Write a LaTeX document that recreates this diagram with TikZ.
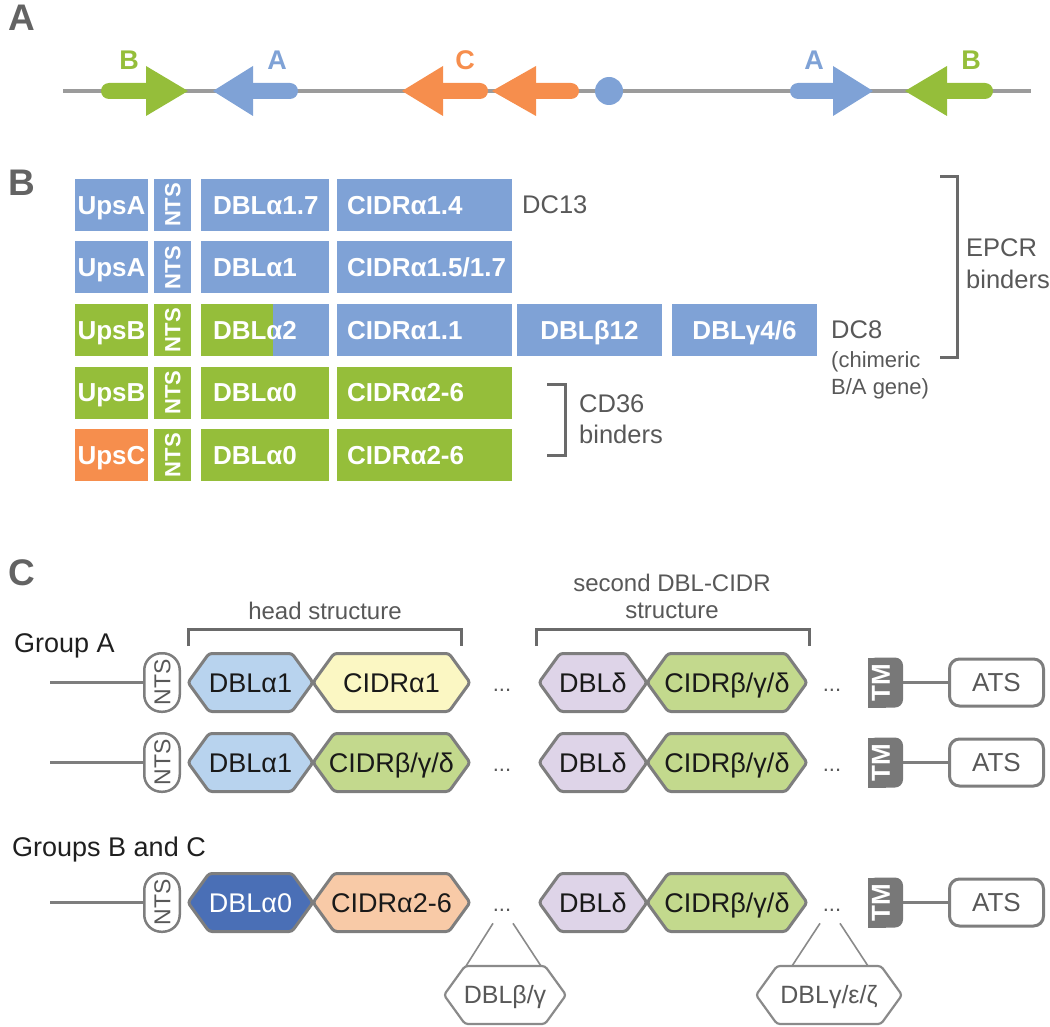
\documentclass[tikz,border=0pt]{standalone}
\usepackage{fontspec}
\setmainfont{Liberation Sans}
\usetikzlibrary{positioning,backgrounds}

\definecolor{geneblue}{HTML}{7FA2D6}
\definecolor{genegreen}{HTML}{95BE3A}
\definecolor{geneorange}{HTML}{F68E4D}
\definecolor{linegray}{HTML}{9B9B9B}
\definecolor{labelgray}{HTML}{636363}
\definecolor{txtgray}{HTML}{585858}
\definecolor{brgray}{HTML}{6A6A6A}
\definecolor{domgray}{HTML}{7E7E7E}
\definecolor{altgray}{HTML}{8A8A8A}
\definecolor{dblaone}{HTML}{B8D3EE}
\definecolor{cidrone}{HTML}{FBF7C3}
\definecolor{cidrbgd}{HTML}{C3D98D}
\definecolor{dbldelta}{HTML}{DED4E8}
\definecolor{dblazero}{HTML}{4A6FB6}
\definecolor{cidrtwo}{HTML}{F8CAA7}
\definecolor{tmgray}{HTML}{787878}

% gene arrow of panel A: tail x, head base x, tip x, colour
\newcommand{\genearrow}[4]{%
  \fill[#4, rounded corners=8] (#1,83) rectangle ({(#2+#3)/2},99);
  \fill[#4] (#2,66) -- (#3,91) -- (#2,116) -- cycle;}

% domain hexagon of panel C: style, name, centre, width, fill, text
\newcommand{\hexdom}[6]{%
  \node[#1, minimum width=#4] (#2) at (#3) {#6};
  \begin{pgfonlayer}{background}
    \draw[#1 line, fill=#5] (#2.west) -- ([xshift=21]#2.north west)
      -- ([xshift=-21]#2.north east) -- (#2.east)
      -- ([xshift=-21]#2.south east) -- ([xshift=21]#2.south west) -- cycle;
  \end{pgfonlayer}}

\begin{document}
\begin{tikzpicture}[x=1pt,y=-1pt,
  panel/.style={font=\fontsize{37}{40}\selectfont\bfseries, text=labelgray,
    text height=26.5, text depth=0, inner sep=0},
  genelabel/.style={font=\fontsize{27}{30}\selectfont\bfseries,
    text height=19.3, text depth=0, inner sep=0},
  bbox/.style={minimum height=52, inner sep=0, outer sep=0, text=white,
    font=\fontsize{26}{28}\selectfont\bfseries, text height=18.6, text depth=0},
  upsbox/.style={bbox, minimum width=73},
  ntsbox/.style={bbox, rotate=90, minimum width=52, minimum height=37,
    font=\fontsize{22}{24}\selectfont\bfseries, text height=15.8},
  dblbox/.style={bbox, minimum width=128, inner xsep=12, text width=104, align=left},
  cidrbox/.style={bbox, minimum width=175, inner xsep=10, text width=155, align=left},
  xbox/.style={bbox, minimum width=145},
  note/.style={font=\fontsize{25.5}{28}\selectfont, text=txtgray, inner sep=0, anchor=base west},
  small note/.style={note, font=\fontsize{22}{24}\selectfont},
  bracket/.style={draw=brgray, line width=3},
  dom/.style={font=\fontsize{27}{30}\selectfont, text=black!90, text height=19.3,
    text depth=0, inner sep=0, outer sep=0, minimum height=58},
  dom line/.style={draw=domgray, line width=3, rounded corners=3},
  althex/.style={dom, font=\fontsize{25}{28}\selectfont, text=txtgray, text height=17.9},
  althex line/.style={draw=altgray, line width=2.2, rounded corners=3},
  ntspill/.style={draw=domgray, line width=2.5, fill=white, rounded corners=17,
    rotate=90, minimum width=58.5, minimum height=35.5, inner sep=0, outer sep=0,
    font=\fontsize{23}{25}\selectfont, text=txtgray, text height=16.5, text depth=0},
  tmbox/.style={fill=tmgray, rounded corners=8, rotate=90, minimum width=50,
    minimum height=35, inner sep=0, outer sep=0, text=white,
    font=\fontsize{26}{28}\selectfont\bfseries, text height=18.6, text depth=10},
  atsbox/.style={draw=domgray, line width=3, rounded corners=10, minimum width=94,
    minimum height=47, inner sep=0, outer sep=0, fill=white,
    font=\fontsize{26}{28}\selectfont, text=txtgray, text height=18.6, text depth=0},
  link/.style={draw=domgray, line width=3},
  splay/.style={draw=altgray, line width=1.6},
  gap dots/.style={font=\fontsize{22}{24}\selectfont, text=txtgray, inner sep=0, anchor=base},
  grouplabel/.style={font=\fontsize{27}{30}\selectfont, text=black!88, inner sep=0, anchor=base west},
  title/.style={font=\fontsize{24}{26}\selectfont, text=txtgray, inner sep=0, anchor=base}
]
\useasboundingbox (0,0) rectangle (1050,1027);

% ---------- panel labels ----------
\node[panel] (pA) at (22,17) {A};
\node[panel] (pB) at (22,182) {B};
\node[panel] (pC) at (22,572) {C};

%================= A: gene order =================
\draw[draw=linegray, line width=4] (63,91) -- (1031,91);
\genearrow{101}{146}{188}{genegreen}
\genearrow{298}{253}{213}{geneblue}
\genearrow{488}{443}{402}{geneorange}
\genearrow{579}{536}{492}{geneorange}
\fill[geneblue] (609,91) circle[radius=14];
\genearrow{790}{833}{873}{geneblue}
\genearrow{993}{947}{905}{genegreen}
\node[genelabel, text=genegreen]  (gB1) at (129,60) {B};
\node[genelabel, text=geneblue]   (gA1) at (277,60) {A};
\node[genelabel, text=geneorange] (gC)  at (465,60) {C};
\node[genelabel, text=geneblue]   (gA2) at (814,60) {A};
\node[genelabel, text=genegreen]  (gB2) at (971,60) {B};

%================= B: domain cassettes =================
% row 1
\node[upsbox, fill=geneblue]  (u1) at (111.5,205) {UpsA};
\node[ntsbox, fill=geneblue]  (n1) at (172.5,205) {NTS};
\node[dblbox, fill=geneblue]  (d1) at (265,205)   {DBLα1.7};
\node[cidrbox, fill=geneblue] (c1) at (424.5,205) {CIDRα1.4};
\node[note] (dc13) at (522,214) {DC13};
% row 2
\node[upsbox, fill=geneblue]  (u2) at (111.5,267.5) {UpsA};
\node[ntsbox, fill=geneblue]  (n2) at (172.5,267.5) {NTS};
\node[dblbox, fill=geneblue]  (d2) at (265,267.5)   {DBLα1};
\node[cidrbox, fill=geneblue] (c2) at (424.5,267.5) {CIDRα1.5/1.7};
% row 3 (chimeric B/A)
\node[upsbox, fill=genegreen] (u3) at (111.5,330) {UpsB};
\node[ntsbox, fill=genegreen] (n3) at (172.5,330) {NTS};
\node[dblbox, fill=geneblue, path picture={\fill[genegreen]
  (path picture bounding box.north west) rectangle ([xshift=72]path picture bounding box.south west);}]
  (d3) at (265,330) {DBLα2};
\node[cidrbox, fill=geneblue] (c3) at (424.5,330) {CIDRα1.1};
\node[xbox, fill=geneblue]    (b3) at (589.5,330) {DBLβ12};
\node[xbox, fill=geneblue]    (y3) at (744.5,330) {DBLγ4/6};
\node[note] (dc8) at (831,338) {DC8};
\node[small note] (chim1) at (831,367) {(chimeric};
\node[small note] (chim2) at (831,394) {B/A gene)};
% row 4
\node[upsbox, fill=genegreen]  (u4) at (111.5,392.5) {UpsB};
\node[ntsbox, fill=genegreen]  (n4) at (172.5,392.5) {NTS};
\node[dblbox, fill=genegreen]  (d4) at (265,392.5)   {DBLα0};
\node[cidrbox, fill=genegreen] (c4) at (424.5,392.5) {CIDRα2-6};
% row 5
\node[upsbox, fill=geneorange] (u5) at (111.5,455) {UpsC};
\node[ntsbox, fill=genegreen]  (n5) at (172.5,455) {NTS};
\node[dblbox, fill=genegreen]  (d5) at (265,455)   {DBLα0};
\node[cidrbox, fill=genegreen] (c5) at (424.5,455) {CIDRα2-6};

% binder brackets
\draw[bracket] (940,177) -- (957,177) -- (957,357) -- (940,357);
\node[note] (epcr1) at (966,257) {EPCR};
\node[note] (epcr2) at (966,288) {binders};
\draw[bracket] (547,384) -- (565,384) -- (565,455) -- (547,455);
\node[note] (cd1) at (579,412) {CD36};
\node[note] (cd2) at (579,443) {binders};

%================= C: domain architecture =================
\node[grouplabel] (grpA)  at (14,652) {Group A};
\node[grouplabel] (grpBC) at (12,856) {Groups B and C};

\node[title] (headT) at (325,619) {head structure};
\draw[bracket] (188,646) -- (188,629) -- (461,629) -- (461,646);
\node[title] (secT1) at (672,591) {second DBL-CIDR};
\node[title] (secT2) at (672,618) {structure};
\draw[bracket] (536,646) -- (536,629) -- (809,629) -- (809,646);

% parts common to the three rows
\foreach \r/\y in {1/682.5,2/762.5,3/902.5} {
  \coordinate (s\r) at (50,\y);
  \node[ntspill] (nts\r) at (162,\y) {NTS};
  \node[gap dots] (gA\r) at (502,\y+8.5) {...};
  \hexdom{dom}{dbld\r}{593,\y}{108}{dbldelta}{DBLδ}
  \hexdom{dom}{cidrd\r}{727,\y}{160}{cidrbgd}{CIDRβ/γ/δ}
  \node[gap dots] (gB\r) at (832,\y+8.5) {...};
  \node[tmbox] (tm\r) at (885.5,\y) {TM};
  \begin{pgfonlayer}{background}
    \fill[tmgray] ([shift={(-17.5,-25)}]tm\r.center) rectangle ([shift={(0,25)}]tm\r.center);
  \end{pgfonlayer}
  \node[atsbox] (ats\r) at (996.5,\y) {ATS};
  \draw[link] (s\r) -- (nts\r);
  \draw[link] (tm\r) -- (ats\r);
}

% head structures
\hexdom{dom}{dbl1}{250.5,682.5}{125}{dblaone}{DBLα1}
\hexdom{dom}{cidr1}{391.5,682.5}{157}{cidrone}{CIDRα1}
\hexdom{dom}{dbl2}{250.5,762.5}{125}{dblaone}{DBLα1}
\hexdom{dom}{cidr2}{391.5,762.5}{157}{cidrbgd}{CIDRβ/γ/δ}
\hexdom{dom}{dbl3}{250.5,902.5}{125}{dblazero}{\textcolor{white}{DBLα0}}
\hexdom{dom}{cidr3}{391.5,902.5}{157}{cidrtwo}{CIDRα2-6}

% optional extra domains
\hexdom{althex}{alt1}{505,995}{122}{white}{DBLβ/γ}
\hexdom{althex}{alt2}{829,995}{146}{white}{DBLγ/ε/ζ}
\draw[splay] ([shift={(-9,13.5)}]gA3.center) -- ([xshift=22]alt1.north west);
\draw[splay] ([shift={(11,13.5)}]gA3.center) -- ([xshift=-25]alt1.north east);
\draw[splay] ([shift={(-12,13.5)}]gB3.center) -- ([xshift=36]alt2.north west);
\draw[splay] ([shift={(8,13.5)}]gB3.center) -- ([xshift=-34]alt2.north east);

\end{tikzpicture}
\end{document}
